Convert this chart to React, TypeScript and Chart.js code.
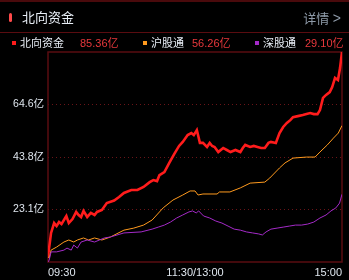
import React, { useEffect, useRef } from "react";
import { Chart, registerables } from "chart.js";

Chart.register(...registerables);

// minutes since 09:30 on a compressed trading-day axis (0..240)
const xTickLabels = ["09:30", "11:30/13:00", "15:00"];
const legendNames = ["北向资金", "沪股通", "深股通"];
const legendValues = ["85.36亿", "56.26亿", "29.10亿"];
const yMin = 2.3;
const yMax = 85.36;

const northMin = [0, 1, 2.5, 5, 7, 9, 11, 14, 15, 17, 20, 23, 25, 27, 29, 32, 35, 38, 40, 44, 48, 54, 58, 62, 68, 73, 78, 83, 86, 89, 91, 95, 99, 103, 107, 110, 114, 117, 119, 120, 121.5, 124, 126.5, 129.8, 132, 134, 136, 139, 143, 146, 149, 153, 157, 159, 161, 165, 168, 171, 174, 177, 180, 182, 186, 189, 192, 195, 198, 200, 204, 208, 211, 214, 217, 220, 222, 224.5, 227, 230, 232, 234.3, 236.7, 238.4, 240];
const northVal = [4.3, 8.2, 13.8, 17.7, 16.5, 18.1, 17.3, 19.7, 20.5, 17.7, 19.3, 22.1, 20.9, 20.1, 22.5, 20.1, 21.7, 20.9, 22.1, 22.9, 25.6, 26.6, 28.0, 29.6, 30.8, 30.8, 32.0, 33.9, 34.7, 34.3, 36.7, 37.9, 41.5, 45.0, 48.2, 49.8, 52.5, 53.3, 52.5, 53.3, 54.5, 49.4, 49.4, 47.8, 49.4, 48.2, 47.8, 45.8, 47.4, 46.6, 45.8, 46.6, 45.8, 47.4, 48.6, 47.8, 48.2, 47.8, 47.4, 47.4, 49.4, 49.8, 49.4, 53.3, 55.7, 57.3, 58.5, 59.6, 60.0, 60.4, 60.8, 61.2, 60.8, 60.8, 62.4, 67.2, 68.4, 69.5, 71.5, 75.1, 74.3, 79.0, 85.36];

const shMin = [0, 1, 2.5, 7, 13, 17, 21, 24, 29, 33, 38, 44, 51, 62, 70, 78, 85, 94, 102, 110, 116, 120, 122.5, 126.5, 138, 140, 148.5, 157, 165, 177, 181, 189, 193.5, 200, 211, 218, 222, 228, 233, 237, 240];
const shVal = [4.3, 3.9, 7.0, 8.2, 10.2, 11.0, 10.2, 11.0, 11.8, 11.0, 11.8, 11.0, 12.2, 14.9, 15.7, 16.9, 18.9, 23.7, 26.8, 28.8, 30.4, 30.4, 28.8, 29.2, 29.2, 30.0, 30.0, 31.6, 33.5, 33.9, 35.5, 39.5, 41.5, 43.4, 43.8, 43.8, 45.8, 48.6, 51.3, 53.3, 56.26];

const szMin = [0, 1, 2.5, 7, 13, 15.5, 19, 21, 24, 27, 32, 38, 42, 46, 51, 62, 76, 85, 90, 95, 100, 105, 110, 115, 118, 121, 123, 127, 132, 137, 142, 147, 152, 157, 162, 167, 172, 175, 178, 182, 187, 192, 197, 202, 207, 212, 217, 222, 227, 231, 235, 238, 240];
const szVal = [2.3, 3.1, 6.3, 6.3, 7.0, 7.8, 7.0, 9.0, 7.8, 10.2, 11.0, 10.2, 11.0, 11.8, 12.2, 13.8, 14.2, 15.3, 16.1, 16.9, 18.1, 19.7, 20.9, 22.1, 22.5, 21.7, 22.5, 20.5, 19.7, 18.5, 17.7, 16.5, 15.3, 14.9, 14.2, 13.8, 13.4, 13.0, 14.2, 15.3, 15.7, 16.1, 16.5, 16.9, 16.9, 17.3, 18.1, 19.7, 20.9, 22.5, 23.7, 25.6, 29.1];

const colors = ["#ff1c1c", "#ff9a1e", "#a42ac8"];
const frameColor = "#5a0c10";

const pts = (xs: number[], ys: number[]) => xs.map((x, i) => ({ x, y: ys[i] }));

const boxPlugin = {
  id: "box",
  beforeDatasetsDraw(chart: any) {
    const { ctx, chartArea: a } = chart;
    ctx.save();
    ctx.strokeStyle = frameColor;
    ctx.lineWidth = 1.5;
    ctx.strokeRect(a.left, a.top, a.right - a.left, a.bottom - a.top);
    ctx.restore();
  },
};

export default function App() {
  const ref = useRef<HTMLCanvasElement>(null);
  useEffect(() => {
    document.body.style.margin = "0";
    document.body.style.background = "#000";
    const chart = new Chart(ref.current!, {
      type: "line",
      data: {
        datasets: [
          { data: pts(szMin, szVal), borderColor: colors[2], borderWidth: 1, pointRadius: 0, tension: 0 },
          { data: pts(shMin, shVal), borderColor: colors[1], borderWidth: 1, pointRadius: 0, tension: 0 },
          { data: pts(northMin, northVal), borderColor: colors[0], borderWidth: 2.6, pointRadius: 0, tension: 0 },
        ],
      },
      options: {
        animation: false,
        responsive: false,
        devicePixelRatio: 1,
        layout: { padding: { left: 0, top: 52, right: 7, bottom: 0 } },
        plugins: { legend: { display: false }, tooltip: { enabled: false } },
        scales: {
          x: {
            type: "linear",
            min: 0,
            max: 240,
            afterBuildTicks: (s: any) => {
              s.ticks = [{ value: 0 }, { value: 120 }, { value: 240 }];
            },
            afterFit: (s: any) => {
              s.height = 18;
            },
            grid: { display: false, drawTicks: false },
            border: { display: false },
            ticks: {
              align: "inner",
              maxRotation: 0,
              autoSkip: false,
              padding: 4,
              color: "#dfe6ee",
              font: { size: 11, family: "'Liberation Sans', 'Noto Sans CJK SC', sans-serif" },
              callback: (v: any) => (v === 0 ? xTickLabels[0] : v === 120 ? xTickLabels[1] : v === 240 ? xTickLabels[2] : ""),
            },
          },
          y: {
            min: yMin,
            max: yMax,
            afterBuildTicks: (s: any) => {
              const r = (yMax - yMin) / 4;
              s.ticks = [1, 2, 3].map((k) => ({ value: yMin + r * k }));
            },
            afterFit: (s: any) => {
              s.width = 48;
            },
            grid: { color: "#6a1418", lineWidth: 1, drawTicks: false },
            border: { display: false, dash: [1, 3] },
            ticks: {
              padding: 4,
              color: "#dfe6ee",
              font: { size: 10.5, family: "'Liberation Sans', 'Noto Sans CJK SC', sans-serif" },
              callback: (v: any) => Number(v).toFixed(1) + "亿",
            },
          },
        },
      },
      plugins: [boxPlugin],
    });
    return () => chart.destroy();
  }, []);

  const font = "'Liberation Sans', 'Noto Sans CJK SC', sans-serif";
  const legendLeft = [12, 143, 255];
  const valueLeft = [80, 192, 305];
  return (
    <div style={{ position: "fixed", left: 0, top: 0, width: 349, height: 280, background: "#000", overflow: "hidden", fontFamily: font }}>
      <canvas ref={ref} width={349} height={280} style={{ position: "absolute", left: 0, top: 0, width: 349, height: 280 }} />
      <div style={{ position: "absolute", left: 0, top: 0, width: 349, height: 2, background: "#4a0a0c" }} />
      <div style={{ position: "absolute", left: 9, top: 13, width: 3, height: 9, borderRadius: 1.5, background: "#ff4a4a" }} />
      <div style={{ position: "absolute", left: 22, top: 8, height: 20, lineHeight: "20px", fontSize: 13, color: "#e8eef6" }}>北向资金</div>
      <div style={{ position: "absolute", right: 8, top: 8, height: 20, lineHeight: "20px", fontSize: 13, color: "#8e9aa8" }}>
        详情 <span style={{ fontSize: 14 }}>&gt;</span>
      </div>
      <div style={{ position: "absolute", left: 0, top: 32, width: 349, height: 1, background: "#5a0c10" }} />
      {legendNames.map((n, i) => (
        <React.Fragment key={n}>
          <div style={{ position: "absolute", left: legendLeft[i], top: 41, width: 4, height: 4, background: colors[i] }} />
          <div style={{ position: "absolute", left: legendLeft[i] + 8, top: 34, height: 18, lineHeight: "18px", fontSize: 11, color: "#e8eef6", whiteSpace: "nowrap" }}>{n}</div>
          <div style={{ position: "absolute", left: valueLeft[i], top: 34, height: 18, lineHeight: "18px", fontSize: 11, color: "#e8383c", whiteSpace: "nowrap" }}>{legendValues[i]}</div>
        </React.Fragment>
      ))}
    </div>
  );
}
